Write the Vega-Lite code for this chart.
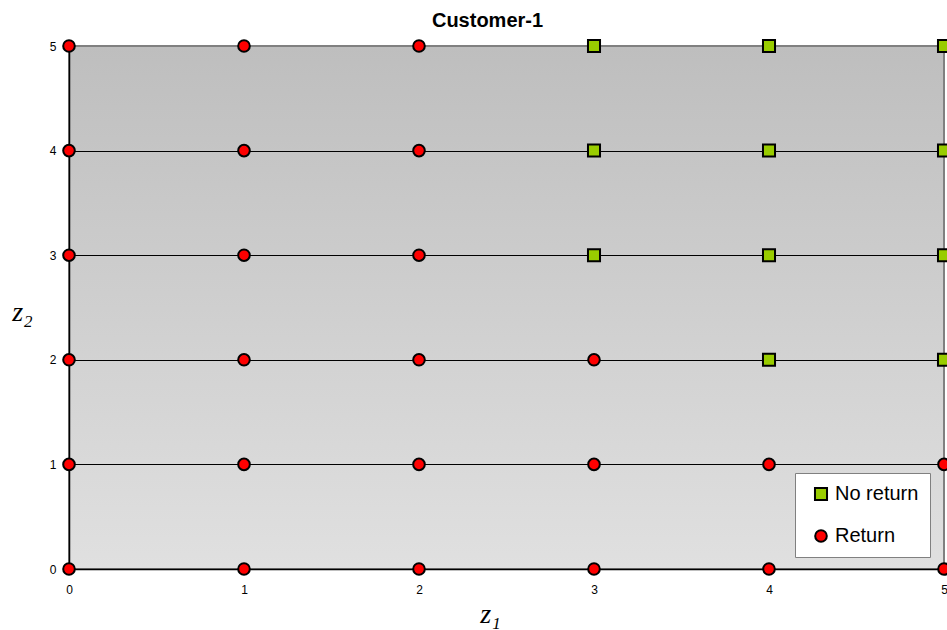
{
  "$schema": "https://vega.github.io/schema/vega-lite/v6.json",
  "width": 875,
  "height": 523,
  "autosize": "none",
  "padding": {"left": 69, "top": 46, "right": 3, "bottom": 61},
  "background": "white",
  "title": {"text": "Customer-1", "font": "Liberation Sans", "fontSize": 20, "fontWeight": "bold", "color": "black", "offset": 5, "dx": -19},
  "config": {
    "view": {
      "fill": {"gradient": "linear", "x1": 0, "y1": 0, "x2": 0, "y2": 1, "stops": [{"offset": 0, "color": "#bebebe"}, {"offset": 1, "color": "#e0e0e0"}]},
      "stroke": "#808080",
      "strokeWidth": 2
    }
  },
  "data": {
    "values": [
      {"z1": 0, "z2": 0, "type": "Return"}, {"z1": 1, "z2": 0, "type": "Return"}, {"z1": 2, "z2": 0, "type": "Return"}, {"z1": 3, "z2": 0, "type": "Return"}, {"z1": 4, "z2": 0, "type": "Return"}, {"z1": 5, "z2": 0, "type": "Return"},
      {"z1": 0, "z2": 1, "type": "Return"}, {"z1": 1, "z2": 1, "type": "Return"}, {"z1": 2, "z2": 1, "type": "Return"}, {"z1": 3, "z2": 1, "type": "Return"}, {"z1": 4, "z2": 1, "type": "Return"}, {"z1": 5, "z2": 1, "type": "Return"},
      {"z1": 0, "z2": 2, "type": "Return"}, {"z1": 1, "z2": 2, "type": "Return"}, {"z1": 2, "z2": 2, "type": "Return"}, {"z1": 3, "z2": 2, "type": "Return"}, {"z1": 4, "z2": 2, "type": "No return"}, {"z1": 5, "z2": 2, "type": "No return"},
      {"z1": 0, "z2": 3, "type": "Return"}, {"z1": 1, "z2": 3, "type": "Return"}, {"z1": 2, "z2": 3, "type": "Return"}, {"z1": 3, "z2": 3, "type": "No return"}, {"z1": 4, "z2": 3, "type": "No return"}, {"z1": 5, "z2": 3, "type": "No return"},
      {"z1": 0, "z2": 4, "type": "Return"}, {"z1": 1, "z2": 4, "type": "Return"}, {"z1": 2, "z2": 4, "type": "Return"}, {"z1": 3, "z2": 4, "type": "No return"}, {"z1": 4, "z2": 4, "type": "No return"}, {"z1": 5, "z2": 4, "type": "No return"},
      {"z1": 0, "z2": 5, "type": "Return"}, {"z1": 1, "z2": 5, "type": "Return"}, {"z1": 2, "z2": 5, "type": "Return"}, {"z1": 3, "z2": 5, "type": "No return"}, {"z1": 4, "z2": 5, "type": "No return"}, {"z1": 5, "z2": 5, "type": "No return"}
    ]
  },
  "mark": {"type": "point", "filled": true, "stroke": "black", "strokeWidth": 2, "opacity": 1, "clip": false},
  "encoding": {
    "x": {
      "field": "z1", "type": "quantitative",
      "scale": {"domain": [0, 5], "nice": false, "zero": false},
      "axis": {
        "values": [0, 1, 2, 3, 4, 5], "format": "d", "grid": false, "ticks": false,
        "domainColor": "black", "domainWidth": 1.5,
        "labelFont": "Liberation Sans", "labelFontSize": 12, "labelColor": "black", "labelPadding": 15, "labelFlush": false,
        "title": "z₁", "titleFont": "Liberation Serif", "titleFontStyle": "italic", "titleFontWeight": "normal", "titleFontSize": 28, "titleColor": "black",
        "titleX": 421, "titleY": 53, "titleAlign": "center", "titleBaseline": "alphabetic"
      }
    },
    "y": {
      "field": "z2", "type": "quantitative",
      "scale": {"domain": [0, 5], "nice": false, "zero": false},
      "axis": {
        "values": [0, 1, 2, 3, 4, 5], "format": "d", "grid": true, "ticks": false,
        "gridColor": {"condition": {"test": "datum.value == 5", "value": "#808080"}, "value": "black"},
        "gridWidth": 1, "gridOpacity": 1,
        "domainColor": "black", "domainWidth": 1.5,
        "labelFont": "Liberation Sans", "labelFontSize": 12, "labelColor": "black", "labelPadding": 13, "labelFlush": false,
        "title": "z₂", "titleFont": "Liberation Serif", "titleFontStyle": "italic", "titleFontWeight": "normal", "titleFontSize": 28, "titleColor": "black",
        "titleAngle": 0, "titleX": -47, "titleY": 274, "titleAlign": "center", "titleBaseline": "alphabetic"
      }
    },
    "color": {
      "field": "type", "type": "nominal",
      "scale": {"domain": ["No return", "Return"], "range": ["#99cc00", "#ff0000"]},
      "legend": {
        "title": null, "orient": "none", "legendX": 726, "legendY": 427,
        "fillColor": "white", "strokeColor": "#808080", "padding": 11,
        "labelFont": "Liberation Sans", "labelFontSize": 20, "labelColor": "black", "labelOffset": 4,
        "labelExpr": "datum.label + '\u00a0\u00a0\u00a0'",
        "symbolSize": 190, "symbolOffset": 5, "symbolStrokeColor": "black", "symbolStrokeWidth": 2, "rowPadding": 21
      }
    },
    "shape": {
      "field": "type", "type": "nominal",
      "scale": {"domain": ["No return", "Return"], "range": ["square", "circle"]},
      "legend": null
    },
    "size": {
      "field": "type", "type": "nominal",
      "scale": {"domain": ["No return", "Return"], "range": [145, 135]},
      "legend": null
    }
  }
}
